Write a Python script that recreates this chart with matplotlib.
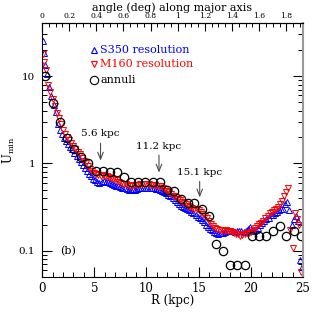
import matplotlib
matplotlib.use("Agg")
import matplotlib.pyplot as plt
from matplotlib.ticker import MultipleLocator, FixedLocator, FuncFormatter, LogLocator, NullFormatter

plt.rcParams['font.family'] = ['DejaVu Serif']
plt.rcParams['mathtext.fontset'] = 'dejavuserif'

# S350 resolution (blue up-triangles)
r_s350 = [0.1, 0.2, 0.3, 0.5, 0.7, 0.9, 1.1, 1.3, 1.5, 1.7, 1.9, 2.1, 2.3, 2.5, 2.7, 2.9,
          3.1, 3.3, 3.5, 3.7, 3.9, 4.1, 4.3, 4.5, 4.7, 4.9, 5.1, 5.3, 5.5, 5.7, 5.9,
          6.1, 6.3, 6.5, 6.7, 6.9, 7.1, 7.3, 7.5, 7.7, 7.9, 8.1, 8.3, 8.5, 8.7, 8.9,
          9.1, 9.3, 9.5, 9.7, 9.9, 10.1, 10.3, 10.5, 10.7, 10.9, 11.1, 11.3, 11.5, 11.7, 11.9,
          12.1, 12.3, 12.5, 12.7, 12.9, 13.1, 13.3, 13.5, 13.7, 13.9, 14.1, 14.3, 14.5, 14.7, 14.9,
          15.1, 15.3, 15.5, 15.7, 15.9, 16.1, 16.3, 16.5, 16.7, 16.9, 17.1, 17.3, 17.5, 17.7, 17.9,
          18.1, 18.3, 18.5, 18.7, 18.9, 19.1, 19.3, 19.5, 19.7, 19.9, 20.1, 20.3, 20.5, 20.7, 20.9,
          21.1, 21.3, 21.5, 21.7, 21.9, 22.1, 22.3, 22.5, 22.7, 22.9, 23.1, 23.3, 23.5, 23.7, 23.9,
          24.1, 24.3, 24.5, 24.7, 24.9]
u_s350 = [25, 18.5, 13.5, 10.5, 7.5, 5.9, 4.7, 3.9, 2.8, 2.4, 2.15, 1.95, 1.8, 1.68, 1.55, 1.45,
          1.33, 1.22, 1.12, 1.03, 0.95, 0.88, 0.81, 0.76, 0.71, 0.67, 0.64, 0.62, 0.60, 0.61, 0.63,
          0.62, 0.61, 0.60, 0.59, 0.57, 0.56, 0.55, 0.54, 0.53, 0.52, 0.51, 0.50, 0.50, 0.51, 0.50,
          0.51, 0.52, 0.52, 0.53, 0.52, 0.53, 0.53, 0.52, 0.52, 0.51, 0.51, 0.50, 0.49, 0.47, 0.46,
          0.44, 0.42, 0.40, 0.38, 0.36, 0.34, 0.33, 0.32, 0.31, 0.30, 0.29, 0.28, 0.27, 0.26, 0.245,
          0.235, 0.225, 0.215, 0.20, 0.19, 0.18, 0.172, 0.165, 0.16, 0.158, 0.16, 0.162, 0.165, 0.167, 0.168,
          0.168, 0.167, 0.166, 0.168, 0.17, 0.168, 0.166, 0.17, 0.178, 0.19, 0.175, 0.168, 0.175, 0.185, 0.20,
          0.21, 0.22, 0.23, 0.24, 0.255, 0.26, 0.27, 0.28, 0.29, 0.30, 0.30, 0.34, 0.36, 0.29, 0.20,
          0.23, 0.25, 0.22, 0.078, 0.065]

# M160 resolution (red down-triangles)
r_m160 = [0.1, 0.2, 0.4, 0.6, 0.8, 1.0, 1.2, 1.4, 1.6, 1.8, 2.0, 2.2, 2.4, 2.6, 2.8, 3.0,
          3.2, 3.4, 3.6, 3.8, 4.0, 4.2, 4.4, 4.6, 4.8, 5.0, 5.2, 5.4, 5.6, 5.8, 6.0,
          6.2, 6.4, 6.6, 6.8, 7.0, 7.2, 7.4, 7.6, 7.8, 8.0, 8.2, 8.4, 8.6, 8.8, 9.0,
          9.2, 9.4, 9.6, 9.8, 10.0, 10.2, 10.4, 10.6, 10.8, 11.0, 11.2, 11.4, 11.6, 11.8, 12.0,
          12.2, 12.4, 12.6, 12.8, 13.0, 13.2, 13.4, 13.6, 13.8, 14.0, 14.2, 14.4, 14.6, 14.8, 15.0,
          15.2, 15.4, 15.6, 15.8, 16.0, 16.2, 16.4, 16.6, 16.8, 17.0, 17.2, 17.4, 17.6, 17.8, 18.0,
          18.2, 18.4, 18.6, 18.8, 19.0, 19.2, 19.4, 19.6, 19.8, 20.0, 20.2, 20.4, 20.6, 20.8, 21.0,
          21.2, 21.4, 21.6, 21.8, 22.0, 22.2, 22.4, 22.6, 22.8, 23.0, 23.2, 23.4, 23.6, 23.8, 24.0,
          24.2, 24.4, 24.6, 24.8]
u_m160 = [18, 14.4, 11.6, 7.9, 6.5, 5.4, 4.6, 3.8, 3.3, 2.8, 2.4, 2.15, 2.0, 1.85, 1.72, 1.6,
          1.48, 1.37, 1.27, 1.17, 1.08, 1.0, 0.93, 0.87, 0.82, 0.78, 0.75, 0.73, 0.72, 0.73, 0.72,
          0.71, 0.70, 0.69, 0.67, 0.66, 0.64, 0.62, 0.60, 0.59, 0.58, 0.57, 0.56, 0.56, 0.57, 0.57,
          0.57, 0.58, 0.58, 0.58, 0.58, 0.58, 0.57, 0.57, 0.57, 0.56, 0.56, 0.55, 0.53, 0.51, 0.49,
          0.47, 0.45, 0.43, 0.41, 0.39, 0.38, 0.36, 0.35, 0.34, 0.33, 0.32, 0.31, 0.305, 0.30, 0.29,
          0.28, 0.265, 0.25, 0.235, 0.22, 0.205, 0.195, 0.185, 0.178, 0.175, 0.172, 0.17, 0.172, 0.17, 0.168,
          0.165, 0.16, 0.158, 0.155, 0.15, 0.152, 0.155, 0.16, 0.162, 0.165, 0.175, 0.185, 0.195, 0.205, 0.21,
          0.22, 0.235, 0.25, 0.27, 0.28, 0.29, 0.30, 0.32, 0.34, 0.37, 0.42, 0.47, 0.52, 0.175, 0.108,
          0.27, 0.23, 0.20, 0.057]

# annuli (black open circles)
r_ann = [0.32, 1.0, 1.7, 2.36, 3.07, 3.77, 4.44, 5.14, 5.84, 6.51, 7.18, 7.85, 8.56, 9.23,
         9.9, 10.6, 11.27, 11.94, 12.6, 13.3, 13.96, 14.6, 15.33, 16.0, 16.67, 17.34, 18.0,
         18.7, 19.4, 20.08, 20.8, 21.5, 22.1, 22.8, 23.4, 24.1, 24.8]
u_ann = [10.0, 4.9, 2.96, 1.97, 1.46, 1.2, 1.0, 0.82, 0.81, 0.80, 0.80, 0.70, 0.61, 0.61,
         0.61, 0.61, 0.61, 0.50, 0.49, 0.39, 0.355, 0.355, 0.30, 0.248, 0.119, 0.099, 0.0695,
         0.0695, 0.0695, 0.148, 0.148, 0.148, 0.169, 0.195, 0.148, 0.169, 0.148]

legend_labels = ['S350 resolution', 'M160 resolution', 'annuli']
arrow_r = [5.6, 11.2, 15.1]
arrow_labels = ['5.6 kpc', '11.2 kpc', '15.1 kpc']
arrow_tip = [1.0, 0.73, 0.38]
arrow_tail = [1.83, 1.34, 0.67]
arrow_text_y = [2.2, 1.56, 0.79]
angle_ticks = [0, 0.2, 0.4, 0.6, 0.8, 1.0, 1.2, 1.4, 1.6, 1.8]
kpc_per_deg = 13.0

fig = plt.figure(figsize=(3.14, 3.15), dpi=100)
ax = fig.add_axes([0.134, 0.121, 0.831, 0.806])
ax.set_yscale('log')

ax.plot(r_s350, u_s350, ls='none', marker='^', ms=3.8, mfc='none', mec='#0000ff', mew=0.7)
ax.plot(r_m160, u_m160, ls='none', marker='v', ms=3.8, mfc='none', mec='#ff0000', mew=0.7)
ax.plot(r_ann, u_ann, ls='none', marker='o', ms=6, mfc='none', mec='black', mew=0.9)

ax.set_xlim(0, 25)
ax.set_ylim(0.0505, 40.4)

# legend drawn manually
leg_y = [20.1, 13.9, 8.9]
leg_marker = ['^', 'v', 'o']
leg_col = ['#0000ff', '#ff0000', 'black']
leg_ms = [4, 4, 6]
for y, m, c, lab, ms in zip(leg_y, leg_marker, leg_col, legend_labels, leg_ms):
    ax.plot([5.0], [y], ls='none', marker=m, ms=ms, mfc='none', mec=c, mew=0.8)
    ax.text(5.55, y, lab, color=c, fontsize=8, va='center', ha='left')

for r, lab, tip, tail, ty in zip(arrow_r, arrow_labels, arrow_tip, arrow_tail, arrow_text_y):
    ax.annotate('', xy=(r, tip), xytext=(r, tail),
                arrowprops=dict(arrowstyle='->,head_length=0.5,head_width=0.2', color='0.3', lw=0.8))
    ax.text(r, ty, lab, fontsize=7.5, ha='center', va='center')

ax.text(2.5, 0.1, '(b)', fontsize=8, ha='center', va='center')

ax.xaxis.set_major_locator(MultipleLocator(5))
ax.xaxis.set_minor_locator(MultipleLocator(1))
ax.yaxis.set_major_locator(LogLocator(base=10))
ax.yaxis.set_minor_locator(LogLocator(base=10, subs=[2, 3, 4, 5, 6, 7, 8, 9]))
ax.yaxis.set_major_formatter(FuncFormatter(lambda v, p: '%g' % v))
ax.yaxis.set_minor_formatter(NullFormatter())
ax.tick_params(which='both', direction='in', right=True, top=False, labelsize=7.5)
ax.tick_params(axis='x', labelsize=8.5, pad=4)
ax.tick_params(axis='y', pad=5)
ax.tick_params(which='major', length=7, width=0.8)
ax.tick_params(which='minor', length=3.5, width=0.7)

sec = ax.secondary_xaxis('top', functions=(lambda r: r / kpc_per_deg, lambda a: a * kpc_per_deg))
sec.xaxis.set_major_locator(FixedLocator(angle_ticks))
sec.xaxis.set_minor_locator(MultipleLocator(0.05))
sec.xaxis.set_major_formatter(FuncFormatter(lambda v, p: '%g' % round(v, 2)))
sec.tick_params(which='both', direction='in', labelsize=5.5, pad=2)
sec.tick_params(which='major', length=6, width=0.8)
sec.tick_params(which='minor', length=3, width=0.7)
sec.set_xlabel('angle (deg) along major axis', fontsize=8, labelpad=1)

for s in ax.spines.values():
    s.set_linewidth(0.8)
ax.spines['right'].set_color('0.6')
ax.spines['right'].set_linewidth(1.5)

ax.set_xlabel('R (kpc)', fontsize=8.5, labelpad=-1)
ax.set_ylabel(r'U$_{\rm min}$', fontsize=8.5)
ax.yaxis.set_label_coords(-0.095, 0.5)

fig.savefig('out.png', dpi=100)
